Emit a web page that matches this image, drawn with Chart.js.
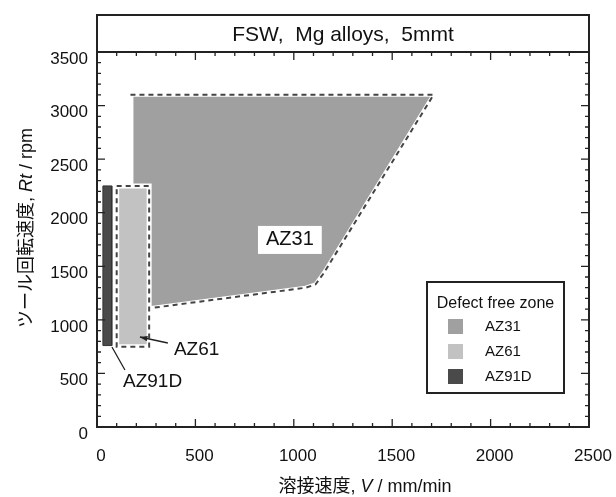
<!DOCTYPE html>
<html>
<head>
<meta charset="utf-8">
<script src="https://cdn.jsdelivr.net/npm/chart.js@4.4.1/dist/chart.umd.min.js"></script>
<style>
  body { margin: 0; background: #fff; }
  canvas { display: block; }
</style>
</head>
<body>
<canvas id="fswChart" width="616" height="497"></canvas>
<script>
/* FSW process window of Mg alloys (5 mm plate) */

const FONT = '"Liberation Sans", Arial, "Noto Sans CJK JP", sans-serif';

// defect free zones: welding speed (mm/min) vs tool rotation (rpm)
const az31Speed = [185, 1710, 1150, 1110, 1060, 185, 185];
const az31Rpm = [3100, 3100, 1430, 1330, 1300, 1090, 3100];
const az31EdgeSpeed = [170, 1710, 1150, 1110, 1060, 170];
const az31EdgeRpm = [3100, 3100, 1430, 1330, 1300, 1085];

const az61Speed = [100, 265, 265, 100, 100];
const az61Rpm = [2250, 2250, 750, 750, 2250];

const az91Speed = [30, 75, 75, 30, 30];
const az91Rpm = [2250, 2250, 760, 760, 2250];

const alloys = ["AZ31", "AZ61", "AZ91D"];
const zoneColors = ["#a0a0a0", "#c2c2c2", "#4a4a4a"];

const xTicks = [0, 500, 1000, 1500, 2000, 2500];
const yTicks = [0, 500, 1000, 1500, 2000, 2500, 3000, 3500];

function pts(xs, ys) {
    return xs.map((x, i) => ({ x: x, y: ys[i] }));
}

// draws frame, inward ticks, title box, labels and legend
const decorations = {
    id: 'decorations',
    afterDatasetsDraw(chart) {
        const ctx = chart.ctx;
        const a = chart.chartArea;
        const xs = chart.scales.x, ys = chart.scales.y;
        const X = v => xs.getPixelForValue(v);
        const Y = v => ys.getPixelForValue(v);

        ctx.save();
        ctx.strokeStyle = '#222';
        ctx.lineWidth = 1.3;
        for (let v = 0; v <= 2500; v += 100) {
            const len = v % 500 === 0 ? 8 : 4;
            const px = X(v);
            ctx.beginPath();
            ctx.moveTo(px, a.bottom); ctx.lineTo(px, a.bottom - len);
            ctx.moveTo(px, a.top); ctx.lineTo(px, a.top + len);
            ctx.stroke();
        }
        for (let v = 0; v <= 3500; v += 100) {
            const len = v % 500 === 0 ? 8 : 4;
            const py = Y(v);
            ctx.beginPath();
            ctx.moveTo(a.left, py); ctx.lineTo(a.left + len, py);
            ctx.moveTo(a.right, py); ctx.lineTo(a.right - len, py);
            ctx.stroke();
        }

        // plot frame and title box
        ctx.lineWidth = 2;
        ctx.strokeRect(a.left, a.top, a.right - a.left, a.bottom - a.top);
        ctx.strokeRect(a.left, 15, a.right - a.left, a.top - 15);
        ctx.fillStyle = '#111';
        ctx.font = '21px ' + FONT;
        ctx.textAlign = 'center';
        ctx.textBaseline = 'middle';
        ctx.fillText('FSW,  Mg alloys,  5mmt', (a.left + a.right) / 2, 35);

        // AZ31 label with white box
        ctx.font = '20px ' + FONT;
        const lx = X(980), ly = Y(1746);
        const w = ctx.measureText('AZ31').width;
        ctx.fillStyle = '#fff';
        ctx.fillRect(lx - w / 2 - 8, ly - 14, w + 16, 28);
        ctx.fillStyle = '#111';
        ctx.fillText('AZ31', lx, ly);

        // AZ61 / AZ91D labels with leaders
        ctx.font = '19px ' + FONT;
        ctx.textAlign = 'left';
        ctx.fillText('AZ61', X(391), Y(719));
        ctx.fillText('AZ91D', X(132), Y(420));

        ctx.strokeStyle = '#222';
        ctx.lineWidth = 1.3;
        ctx.beginPath();
        ctx.moveTo(X(360), Y(784)); ctx.lineTo(X(218), Y(840));
        ctx.moveTo(X(142), Y(532)); ctx.lineTo(X(76), Y(747));
        ctx.stroke();
        // arrowhead on AZ61 leader
        const tx = X(218), ty = Y(840);
        const ang = Math.atan2(Y(840) - Y(784), X(218) - X(360));
        ctx.beginPath();
        ctx.moveTo(tx, ty);
        ctx.lineTo(tx - 8 * Math.cos(ang - 0.35), ty - 8 * Math.sin(ang - 0.35));
        ctx.lineTo(tx - 8 * Math.cos(ang + 0.35), ty - 8 * Math.sin(ang + 0.35));
        ctx.closePath();
        ctx.fillStyle = '#222';
        ctx.fill();

        // legend
        const bx = a.right - 162, by = a.top + 230, bw = 137, bh = 111;
        ctx.fillStyle = '#fff';
        ctx.fillRect(bx, by, bw, bh);
        ctx.lineWidth = 2;
        ctx.strokeStyle = '#222';
        ctx.strokeRect(bx, by, bw, bh);
        ctx.fillStyle = '#111';
        ctx.font = '16px ' + FONT;
        ctx.textAlign = 'center';
        ctx.fillText('Defect free zone', bx + bw / 2, by + 22);
        ctx.font = '15px ' + FONT;
        ctx.textAlign = 'left';
        alloys.forEach((name, i) => {
            const cy = by + 45 + i * 25;
            ctx.fillStyle = zoneColors[i];
            ctx.fillRect(bx + 21, cy - 8, 15, 15);
            ctx.fillStyle = '#111';
            ctx.fillText(name, bx + 58, cy);
        });

        // axis titles with italic symbols
        drawMixed(ctx, [['溶接速度, ', ''], ['V', 'italic '], [' / mm/min', '']], 365, 487, 0);
        drawMixed(ctx, [['ツール回転速度, ', ''], ['Rt', 'italic '], [' / rpm', '']], 27, 228, -Math.PI / 2);
        ctx.restore();
    }
};

function drawMixed(ctx, parts, cx, cy, rot) {
    ctx.save();
    ctx.translate(cx, cy);
    ctx.rotate(rot);
    ctx.textAlign = 'left';
    ctx.textBaseline = 'middle';
    ctx.fillStyle = '#111';
    let total = 0;
    parts.forEach(p => { ctx.font = p[1] + '18px ' + FONT; total += ctx.measureText(p[0]).width; });
    let x = -total / 2;
    parts.forEach(p => {
        ctx.font = p[1] + '18px ' + FONT;
        ctx.fillText(p[0], x, 0);
        x += ctx.measureText(p[0]).width;
    });
    ctx.restore();
}

const chart = new Chart(document.getElementById('fswChart'), {
    type: 'scatter',
    data: {
        datasets: [
            {
                label: 'AZ91D',
                data: pts(az91Speed, az91Rpm),
                showLine: true,
                fill: 'shape',
                backgroundColor: zoneColors[2],
                borderColor: '#333',
                borderWidth: 1,
                pointRadius: 0,
                order: 1
            },
            {
                label: 'AZ61 edge',
                data: pts(az61Speed, az61Rpm),
                showLine: true,
                fill: false,
                borderColor: '#444',
                borderWidth: 2,
                borderDash: [5, 4],
                pointRadius: 0,
                order: 2
            },
            {
                label: 'AZ61',
                data: pts(az61Speed, az61Rpm),
                showLine: true,
                fill: 'shape',
                backgroundColor: zoneColors[1],
                borderColor: '#fff',
                borderWidth: 5,
                pointRadius: 0,
                order: 3
            },
            {
                label: 'AZ31 edge',
                data: pts(az31EdgeSpeed, az31EdgeRpm),
                showLine: true,
                fill: false,
                borderColor: '#444',
                borderWidth: 2,
                borderDash: [5, 4],
                pointRadius: 0,
                order: 4
            },
            {
                label: 'AZ31 halo',
                data: pts(az31EdgeSpeed, az31EdgeRpm),
                showLine: true,
                fill: false,
                borderColor: '#fff',
                borderWidth: 4,
                pointRadius: 0,
                order: 5
            },
            {
                label: 'AZ31',
                data: pts(az31Speed, az31Rpm),
                showLine: true,
                fill: 'shape',
                backgroundColor: zoneColors[0],
                borderWidth: 0,
                pointRadius: 0,
                order: 6
            }
        ]
    },
    options: {
        responsive: false,
        animation: false,
        layout: { padding: { left: 0, top: 52, right: 27, bottom: 0 } },
        plugins: {
            legend: { display: false },
            tooltip: { enabled: false }
        },
        scales: {
            x: {
                type: 'linear',
                min: 0,
                max: 2500,
                grid: { display: false, drawTicks: false },
                border: { display: false },
                afterFit: s => { s.height = 70; s.paddingLeft = 0; s.paddingRight = 0; },
                afterBuildTicks: s => { s.ticks = xTicks.map(v => ({ value: v })); },
                ticks: {
                    color: '#111',
                    font: { family: FONT, size: 17 },
                    padding: 19,
                    labelOffset: 4,
                    maxRotation: 0,
                    callback: v => String(v)
                }
            },
            y: {
                type: 'linear',
                min: 0,
                max: 3500,
                grid: { display: false, drawTicks: false },
                border: { display: false },
                afterFit: s => { s.width = 97; s.paddingTop = 0; s.paddingBottom = 0; },
                afterBuildTicks: s => { s.ticks = yTicks.map(v => ({ value: v })); },
                ticks: {
                    color: '#111',
                    font: { family: FONT, size: 17 },
                    padding: 9,
                    labelOffset: 7,
                    callback: v => String(v)
                }
            }
        }
    },
    plugins: [decorations]
});
</script>
</body>
</html>
